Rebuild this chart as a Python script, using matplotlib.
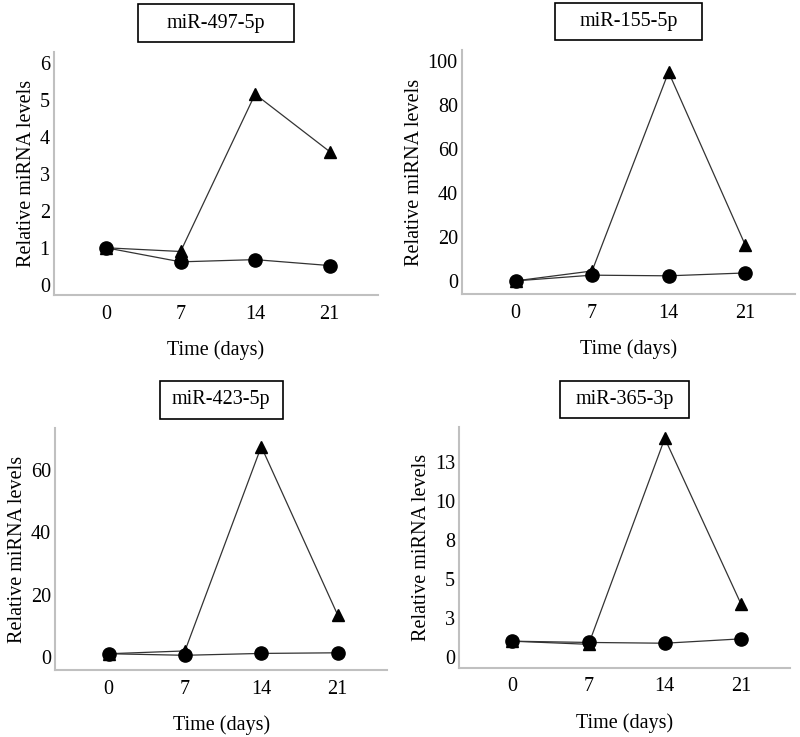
import matplotlib
matplotlib.use("Agg")
import matplotlib.pyplot as plt
from matplotlib.patches import Rectangle

plt.rcParams['font.family'] = ['Liberation Serif', 'DejaVu Serif']

# data
days = ['0', '7', '14', '21']
titles = ['miR-497-5p', 'miR-155-5p', 'miR-423-5p', 'miR-365-3p']

tri_497 = [1.0, 0.9, 5.15, 3.6]
circ_497 = [1.0, 0.62, 0.68, 0.52]

tri_155 = [0.0, 4.5, 95.0, 16.5]
circ_155 = [0.0, 2.6, 2.3, 3.6]

tri_423 = [1.0, 1.9, 67.5, 13.5]
circ_423 = [1.0, 0.5, 1.1, 1.3]

tri_365 = [1.0, 0.8, 14.0, 3.4]
circ_365 = [1.0, 0.92, 0.87, 1.15]

yticks_497 = [0, 1, 2, 3, 4, 5, 6]
yticks_155 = [0, 20, 40, 60, 80, 100]
yticks_423 = [0, 20, 40, 60]
yticks_365 = [0, 2.5, 5, 7.5, 10, 12.5]
ylabels_365 = ['0', '3', '5', '8', '10', '13']

panels = [
    (titles[0], tri_497, circ_497, yticks_497, None, (-0.27, 6.3)),
    (titles[1], tri_155, circ_155, yticks_155, None, (-6, 105)),
    (titles[2], tri_423, circ_423, yticks_423, None, (-4.2, 73.4)),
    (titles[3], tri_365, circ_365, yticks_365, ylabels_365, (-0.7, 14.7)),
]

# axes placement in figure fraction, and title box half-width in axes fraction
positions = [
    [0.0675, 0.600, 0.405, 0.330],
    [0.5775, 0.601, 0.416, 0.331],
    [0.069, 0.091, 0.415, 0.328],
    [0.574, 0.094, 0.414, 0.326],
]
box_half = [0.24, 0.22, 0.185, 0.195]
FS = 14.5

fig = plt.figure(figsize=(8, 7.37), dpi=100)

for i, (title, tri, circ, yt, yl, ylim) in enumerate(panels):
    ax = fig.add_axes(positions[i])
    x = range(len(days))
    ax.plot(x, tri, color='#333333', lw=0.9, marker='^', ms=9,
            mfc='black', mec='black', zorder=3)
    ax.plot(x, circ, color='#333333', lw=0.9, marker='o', ms=9.5,
            mfc='black', mec='black', zorder=4)

    ax.set_xlim(-0.7, 3.65)
    ax.set_ylim(*ylim)
    ax.set_xticks(list(x))
    ax.set_xticklabels(days)
    ax.set_yticks(yt)
    if yl is not None:
        ax.set_yticklabels(yl)

    for s in ['top', 'right']:
        ax.spines[s].set_visible(False)
    for s in ['left', 'bottom']:
        ax.spines[s].set_color('#c0c0c0')
        ax.spines[s].set_linewidth(1.5)
    ax.tick_params(axis='x', length=0, labelsize=FS, pad=7)
    ax.tick_params(axis='y', length=0, labelsize=FS, pad=3)

    ax.set_xlabel('Time (days)', fontsize=FS, labelpad=12)
    ax.set_ylabel('Relative miRNA levels', fontsize=FS, labelpad=3)

    # boxed title above the plot
    cx = 0.5
    ax.add_patch(Rectangle((cx - box_half[i], 1.04), 2 * box_half[i], 0.155,
                           transform=ax.transAxes, clip_on=False,
                           fill=False, edgecolor='black', lw=1.2))
    ax.text(cx, 1.04 + 0.0775, title, transform=ax.transAxes,
            ha='center', va='center', fontsize=FS)

fig.savefig('out.png', dpi=100, facecolor='white')
